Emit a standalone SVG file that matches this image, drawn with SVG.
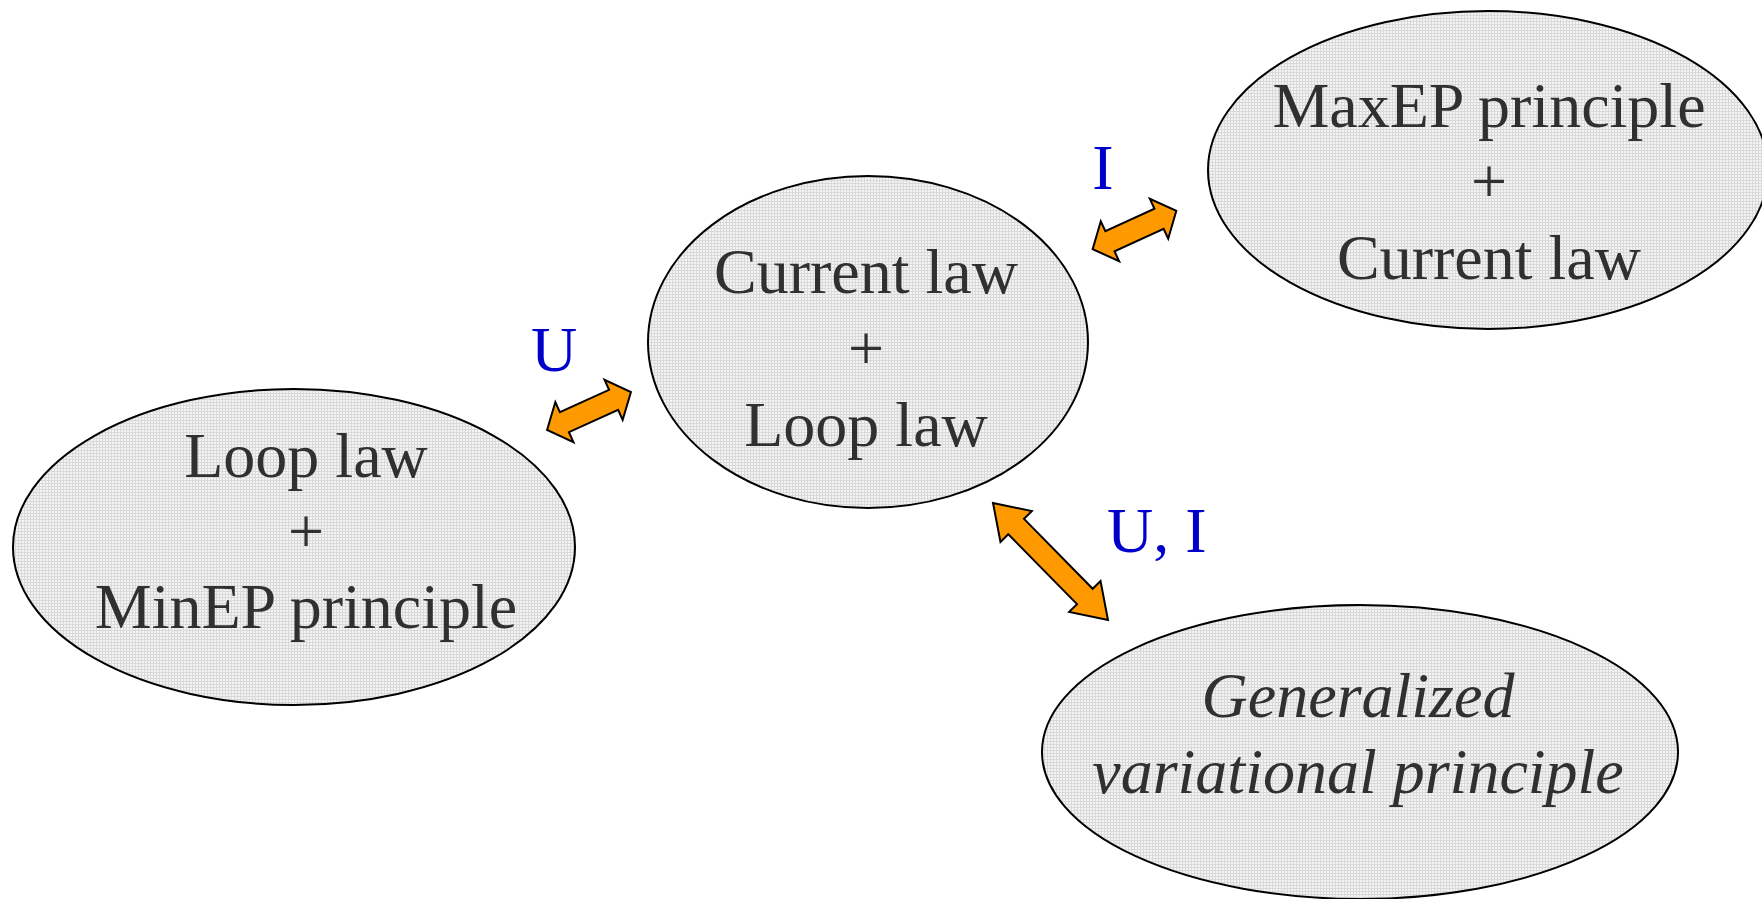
<svg xmlns="http://www.w3.org/2000/svg" width="1762" height="899" viewBox="0 0 1762 899">
  <defs>
    <pattern id="grid" width="3" height="3" patternUnits="userSpaceOnUse">
      <rect width="3" height="3" fill="#f4f4f4"/>
      <rect width="3" height="1" fill="#d9d9d9"/>
      <rect width="1" height="3" fill="#d9d9d9"/>
    </pattern>
    <path id="arrowShort" d="M-46,0 L-27,-22 L-27,-11 L27,-11 L27,-22 L46,0 L27,22 L27,11 L-27,11 L-27,22 Z"/>
  </defs>
  <style>
    .node ellipse { fill: url(#grid); stroke: #000; stroke-width: 2; }
    .node text { font-family: "Liberation Serif", "Times New Roman", serif; font-size: 64px; fill: #303030; text-anchor: middle; }
    .node text.it { font-style: italic; }
    .arrow { fill: #ff9900; stroke: #000; stroke-width: 2; stroke-linejoin: miter; }
    .lbl { font-family: "Liberation Serif", "Times New Roman", serif; font-size: 64px; fill: #0000cc; }
  </style>
  <rect width="1762" height="899" fill="#ffffff"/>

  <g id="node-loop-minep" class="node">
    <ellipse cx="294" cy="547" rx="281" ry="158"/>
    <text x="306" y="477">Loop law</text>
    <text x="306" y="553">+</text>
    <text x="306" y="628">MinEP principle</text>
  </g>

  <g id="node-current-loop" class="node">
    <ellipse cx="868" cy="342" rx="220" ry="166"/>
    <text x="866" y="293">Current law</text>
    <text x="866" y="370">+</text>
    <text x="866" y="446">Loop law</text>
  </g>

  <g id="node-maxep-current" class="node">
    <ellipse cx="1488" cy="170" rx="280" ry="159"/>
    <text x="1489" y="127">MaxEP principle</text>
    <text x="1489" y="203">+</text>
    <text x="1489" y="279">Current law</text>
  </g>

  <g id="node-generalized" class="node">
    <ellipse cx="1360" cy="752" rx="318" ry="147"/>
    <text class="it" x="1358" y="717">Generalized</text>
    <text class="it" x="1358" y="793">variational principle</text>
  </g>

  <g id="connectors">
    <use href="#arrowShort" class="arrow" transform="translate(589,411) rotate(-24.3)"/>
    <use href="#arrowShort" class="arrow" transform="translate(1134.5,230) rotate(-24.6)"/>
    <path class="arrow" transform="translate(1050.5,561.5) rotate(45.5)" d="M-82,0 L-49,-22 L-49,-11 L49,-11 L49,-22 L82,0 L49,22 L49,11 L-49,11 L-49,22 Z"/>
    <text class="lbl" x="554" y="371" text-anchor="middle">U</text>
    <text class="lbl" x="1103" y="189" text-anchor="middle">I</text>
    <text class="lbl" x="1107" y="552">U, I</text>
  </g>
</svg>
